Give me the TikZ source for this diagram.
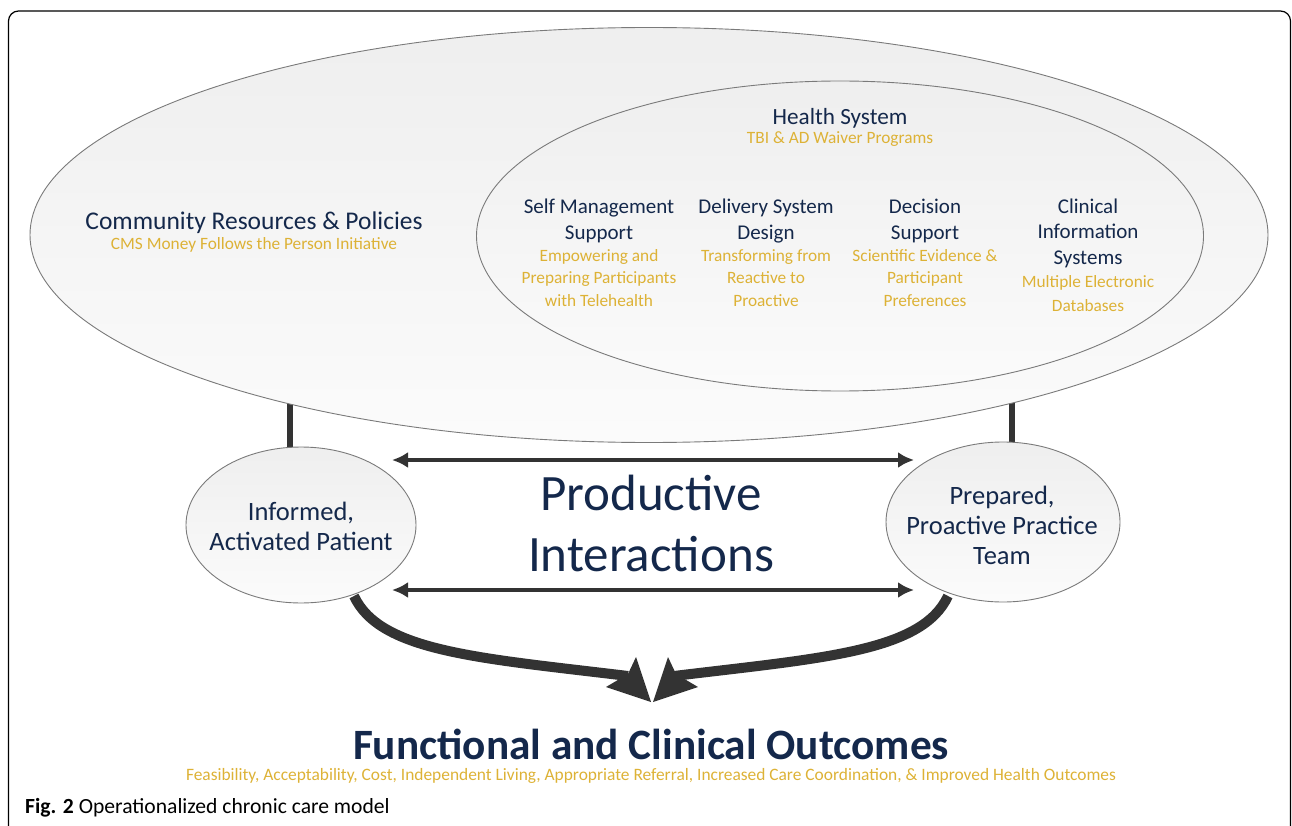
\documentclass[tikz,border=0pt]{standalone}
\usepackage{fontspec}
\setmainfont{Carlito}
\usetikzlibrary{shapes.geometric,arrows.meta}
\definecolor{navy}{HTML}{14284B}
\definecolor{gold}{HTML}{DDB236}
\definecolor{ink}{HTML}{333333}
\definecolor{rim}{HTML}{7A7A7A}
\tikzset{
  oval/.style={ellipse, draw=rim, line width=0.9pt, top color=gray!13, bottom color=gray!3, inner sep=0pt},
  head/.style={text=navy, align=center, font=\fontsize{21}{25.5}\selectfont},
  sub/.style={text=gold, align=center, font=\fontsize{17.3}{22.5}\selectfont},
  small/.style={text=gold, align=center, font=\fontsize{17.3}{20}\selectfont},
  bubble/.style={text=navy, align=center, font=\fontsize{26.5}{30}\selectfont},
  tie/.style={draw=ink, line width=6pt},
  link/.style={draw=ink, line width=4pt, {Latex[length=16pt,width=16pt]}-{Latex[length=16pt,width=16pt]}},
  flow/.style={draw=ink, line width=10pt},
  barb/.style={fill=ink, draw=none}
}
\begin{document}
\begin{tikzpicture}[x=1pt,y=-1pt]
\useasboundingbox (0,0) rectangle (1292,826);
% frame
\draw[line width=1.2pt, black, rounded corners=10pt] (8.5,830) -- (8.5,11) -- (1290.5,11) -- (1290.5,830);
% connector coordinates
\coordinate (lt) at (290,400);
\coordinate (rt) at (1012,400);
\coordinate (lb) at (290,449);
\coordinate (rb) at (1012,445);
\draw[tie] (lt) -- (lb);
\draw[tie] (rt) -- (rb);
% ellipses
\node[oval, minimum width=1238pt, minimum height=415pt] (big) at (649,235) {};
\node[oval, minimum width=727pt, minimum height=310pt] (inner) at (840,236) {};
\node[oval, minimum width=230pt, minimum height=156pt] (pat) at (301,525) {};
\node[oval, minimum width=234pt, minimum height=160pt] (team) at (1003,522) {};
% texts in big ellipse
\node[head, font=\fontsize{25.5}{30}\selectfont] (crp) at (254,223) {Community Resources \& Policies};
\node[small] (cms) at (254,245) {CMS Money Follows the Person Initiative};
\node[head, font=\fontsize{23.2}{28}\selectfont] (hs) at (840,118) {Health System};
\node[small] (tbi) at (840,139) {TBI \& AD Waiver Programs};
\node[head] (c1) at (599,221) {Self Management\\Support};
\node[sub] (c1s) at (599,278) {Empowering and\\Preparing Participants\\with Telehealth};
\node[head] (c2) at (766,221) {Delivery System\\Design};
\node[sub] (c2s) at (766,278) {Transforming from\\Reactive to\\Proactive};
\node[head] (c3) at (925,221) {Decision\\Support};
\node[sub] (c3s) at (925,278) {Scientific Evidence \&\\Participant\\Preferences};
\node[head] (c4) at (1088,233) {Clinical\\Information\\Systems};
\node[sub, font=\fontsize{17.3}{24}\selectfont] (c4s) at (1088,294) {Multiple Electronic\\Databases};
% small ellipse texts
\node[bubble] (patt) at (301,526) {Informed,\\Activated Patient};
\node[bubble] (teamt) at (1002,525) {Prepared,\\Proactive Practice\\Team};
% productive interactions
\node[text=navy, font=\fontsize{51}{61}\selectfont, align=center] (pi) at (651,523) {Productive\\Interactions};
\coordinate (a1l) at (392,460);
\coordinate (a1r) at (914,460);
\coordinate (a2l) at (392,590);
\coordinate (a2r) at (914,590);
\draw[link] (a1l) -- (a1r);
\draw[link] (a2l) -- (a2r);
% curved arrows
\coordinate (ls) at (354,596);
\coordinate (le) at (628,676);
\coordinate (rs) at (948,596);
\coordinate (re) at (674,676);
\draw[flow] (ls) .. controls (380,652) and (480,658) .. (le);
\draw[flow] (rs) .. controls (922,652) and (822,658) .. (re);
\fill[barb] (651,702) -- (636,657) -- (628,674) -- (606,687) -- cycle;
\fill[barb] (653,702) -- (668,657) -- (676,674) -- (698,687) -- cycle;
% outcomes
\node[text=navy, inner sep=0pt, font=\bfseries\fontsize{43.3}{50}\selectfont] (out) at (651,744) {Functional and Clinical Outcomes};
\node[text=gold, inner sep=0pt, font=\fontsize{17.4}{20}\selectfont] (outs) at (651,776) {Feasibility, Acceptability, Cost, Independent Living, Appropriate Referral, Increased Care Coordination, \& Improved Health Outcomes};
% caption
\node[anchor=west, inner sep=0pt, font=\fontsize{21.6}{25}\selectfont] (cap) at (25,808) {\textbf{Fig. 2} Operationalized chronic care model};
\end{tikzpicture}
\end{document}
